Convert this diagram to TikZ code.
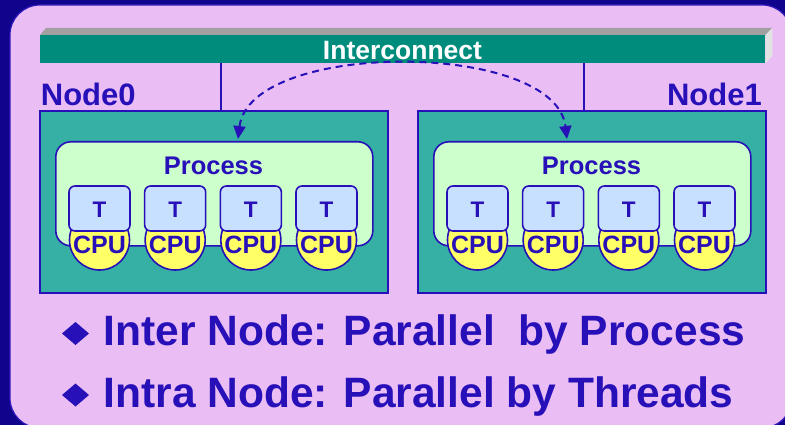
\documentclass[tikz,border=0pt]{standalone}
\usepackage{fontspec}
\setmainfont{Liberation Sans}
\usetikzlibrary{arrows.meta}

\definecolor{navy}{RGB}{16,4,140}
\definecolor{lav}{RGB}{234,190,244}
\definecolor{lavedge}{RGB}{48,24,190}
\definecolor{inkblue}{RGB}{40,16,184}
\definecolor{barteal}{RGB}{0,140,124}
\definecolor{bartop}{RGB}{160,160,160}
\definecolor{barside}{RGB}{226,226,226}
\definecolor{hostteal}{RGB}{54,176,164}
\definecolor{procgreen}{RGB}{204,255,204}
\definecolor{thrblue}{RGB}{200,224,255}
\definecolor{cpuyellow}{RGB}{255,255,102}

\tikzset{
  hostbox/.style={draw=inkblue, line width=2pt, fill=hostteal, inner sep=0pt,
    anchor=north west, minimum width=348pt, minimum height=182pt},
  procbox/.style={draw=inkblue, line width=1.6pt, fill=procgreen, inner sep=0pt,
    rounded corners=15pt, anchor=north west, minimum width=317pt, minimum height=104pt},
  thrbox/.style={draw=inkblue, line width=1.6pt, fill=thrblue, inner sep=0pt,
    rounded corners=6pt, minimum width=61pt, minimum height=45pt},
  cpudisc/.style={draw=inkblue, line width=1.6pt, fill=cpuyellow, circle,
    inner sep=0pt, minimum size=60pt},
  lbl/.style={inner sep=0pt, text=inkblue, font=\fontsize{31}{36}\selectfont\bfseries},
  proclbl/.style={inner sep=0pt, text=inkblue, font=\fontsize{25.5}{30}\selectfont\bfseries},
  thrlbl/.style={inner sep=0pt, text=inkblue, font=\fontsize{22.5}{27}\selectfont\bfseries},
  cpulbl/.style={inner sep=0pt, text=inkblue, font=\fontsize{25}{30}\selectfont\bfseries},
  bullettext/.style={inner sep=0pt, text=inkblue, font=\fontsize{42.5}{50}\selectfont\bfseries},
  link/.style={draw=inkblue, line width=1.5pt},
  msgarc/.style={draw=inkblue, line width=2pt, dash pattern=on 7pt off 5pt,
    {Triangle[length=13pt,width=12pt]}-{Triangle[length=13pt,width=12pt]}},
}

\begin{document}
\begin{tikzpicture}[x=1pt,y=-1pt]
\useasboundingbox (0,0) rectangle (785,425);

% frame and panel
\fill[navy] (0,0) rectangle (785,425);
\filldraw[fill=lav, draw=lavedge, line width=1.2pt, rounded corners=30pt] (10,5) rectangle (792,428);

% interconnect bar (front, top and side faces)
\node[fill=barteal, inner sep=0pt, anchor=north west, minimum width=725pt, minimum height=28pt] (bar) at (40,35) {};
\fill[bartop] (bar.north west) -- ++(6,-7) -- ++(726,0) -- (bar.north east) -- cycle;
\fill[barside] (bar.north east) -- ++(7,-7) -- ++(0,28) -- (bar.south east) -- cycle;
\node[inner sep=0pt, text=white, font=\fontsize{26.5}{30}\selectfont\bfseries, anchor=base] (bartext) at (402.5,60) {Interconnect};

% hosts
\node[hostbox] (n0) at (39,110) {};
\node[hostbox] (n1) at (417,110) {};
\node[lbl, anchor=base west] (n0lbl) at (40.7,106) {Node0};
\node[lbl, anchor=base east] (n1lbl) at (762,106) {Node1};

% links from the interconnect to the hosts
\coordinate (c0) at (221,110);
\coordinate (c1) at (584,110);
\draw[link] (c0 |- bar.south) -- (c0);
\draw[link] (c1 |- bar.south) -- (c1);

% processes with their threads on CPUs
\foreach \s/\off in {0/0,1/378}{
  \node[procbox] (p\s) at (55+\off,141) {};
  \node[proclbl, anchor=base] (p\s lbl) at (213.5+\off,175) {Process};
  \foreach \i in {0,...,3}{
    \pgfmathsetmacro{\cx}{99.5+75.67*\i+\off}
    \node[cpudisc] (cpu\s\i) at (\cx,240) {};
    \node[thrbox] (t\s\i) at (\cx,208.5) {};
    \node[thrlbl, anchor=base] (t\s\i lbl) at (\cx,218) {T};
    \node[cpulbl, anchor=base] (cpu\s\i lbl) at (\cx,253) {CPU};
  }
}

% message passing between the two processes
\coordinate (a0) at (238,139);
\coordinate (a1) at (567,139);
\draw[msgarc] (a0) .. controls (250,40) and (555,40) .. (a1);

% bullet lines
\fill[inkblue] (75.5,322) -- (89,333.5) -- (75.5,345) -- (62,333.5) -- cycle;
\fill[inkblue] (75.5,383.5) -- (89,395) -- (75.5,406.5) -- (62,395) -- cycle;
\node[bullettext, anchor=base west] (b1) at (103.5,345) {Inter Node: Parallel\ \ by Process};
\node[bullettext, anchor=base west] (b2) at (103.5,407) {Intra Node: Parallel by Threads};
\end{tikzpicture}
\end{document}
